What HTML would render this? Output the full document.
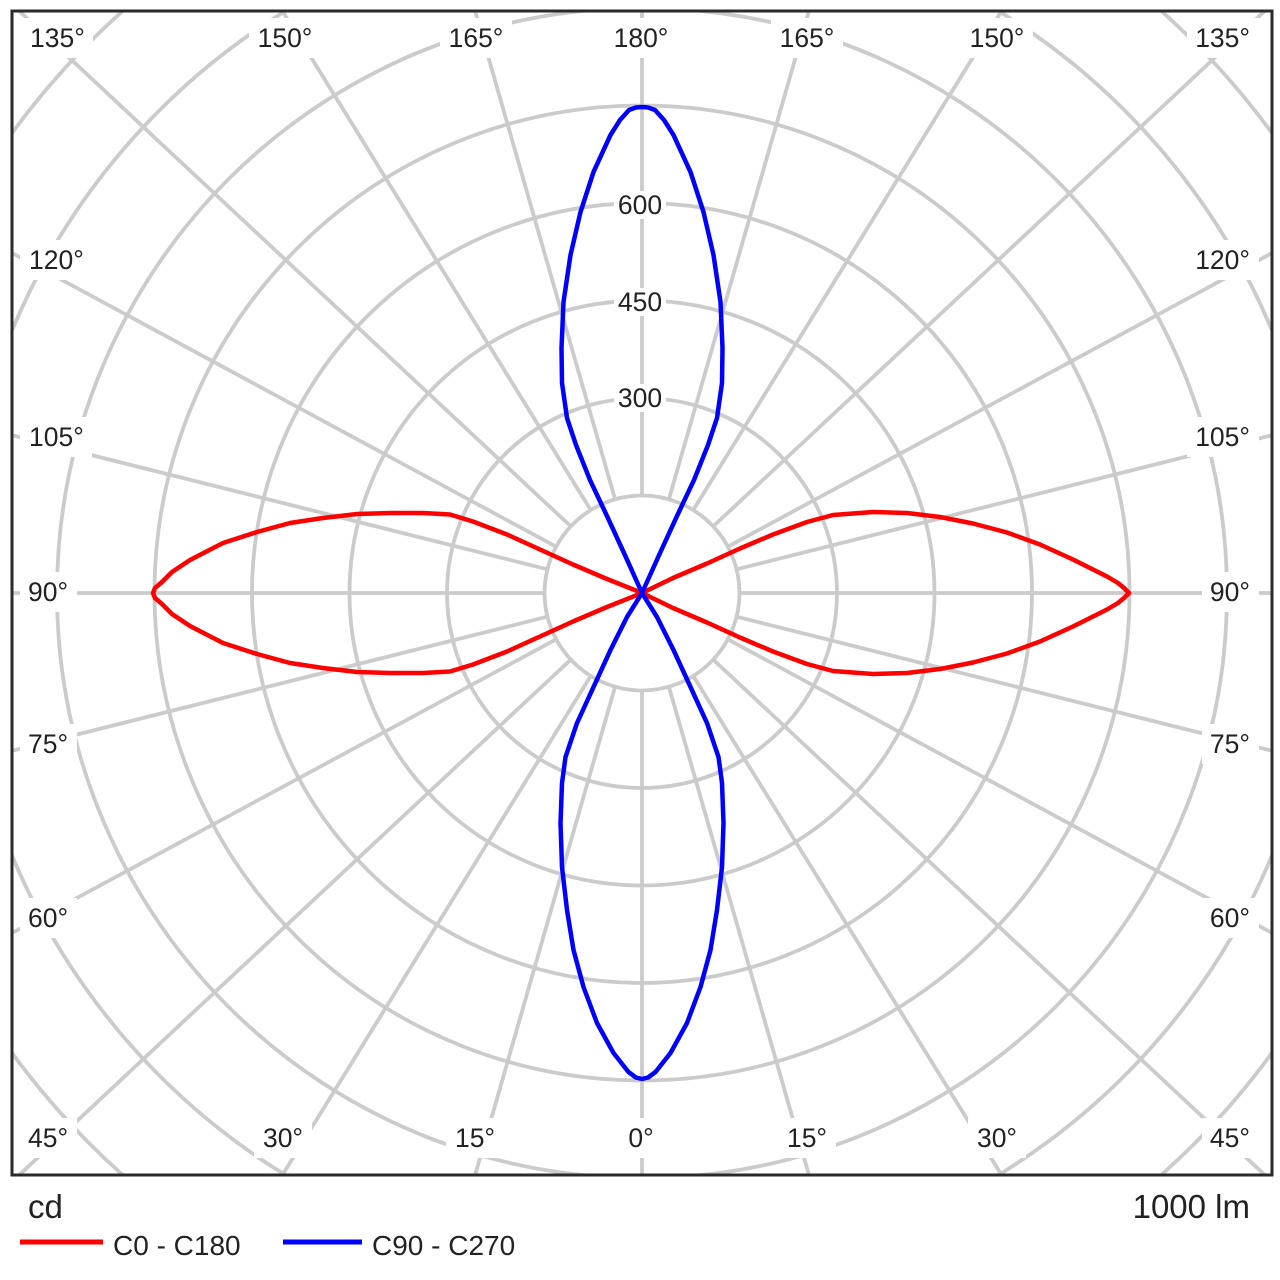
<!DOCTYPE html>
<html>
<head>
<meta charset="utf-8">
<style>
html,body{margin:0;padding:0;background:#fff;width:1280px;height:1280px;overflow:hidden;}
svg{display:block;}
text{font-family:"Liberation Sans",Arial,sans-serif;fill:#222;}
</style>
</head>
<body>
<svg width="1280" height="1280" viewBox="0 0 1280 1280" xmlns="http://www.w3.org/2000/svg">
<defs>
<clipPath id="c"><rect x="12" y="11" width="1260" height="1164"/></clipPath>
</defs>
<rect x="0" y="0" width="1280" height="1280" fill="#fff"/>
<g clip-path="url(#c)" stroke="#cbcbcb" stroke-width="3.8" fill="none">
<g transform="translate(642,593)">
<circle r="97.5"/><circle r="195"/><circle r="292.5"/><circle r="390"/>
<circle r="487.5"/><circle r="585"/>
<line x1="0" y1="97.5" x2="0" y2="582"/>
<line x1="0" y1="-97.5" x2="0" y2="-582"/>
<line x1="97.5" y1="0" x2="630" y2="0"/>
<line x1="-97.5" y1="0" x2="-630" y2="0"/>
<line x1="26.9" y1="93.7" x2="166.9" y2="582"/>
<line x1="-26.9" y1="93.7" x2="-166.9" y2="582"/>
<line x1="26.9" y1="-93.7" x2="166.9" y2="-582"/>
<line x1="-26.9" y1="-93.7" x2="-166.9" y2="-582"/>
<line x1="51.2" y1="82.9" x2="359.6" y2="582"/>
<line x1="-51.2" y1="82.9" x2="-359.6" y2="582"/>
<line x1="51.2" y1="-82.9" x2="359.6" y2="-582"/>
<line x1="-51.2" y1="-82.9" x2="-359.6" y2="-582"/>
<line x1="71.2" y1="66.6" x2="622.8" y2="582"/>
<line x1="-71.2" y1="66.6" x2="-622.8" y2="582"/>
<line x1="71.2" y1="-66.6" x2="622.8" y2="-582"/>
<line x1="-71.2" y1="-66.6" x2="-622.8" y2="-582"/>
<line x1="85.8" y1="46.3" x2="630" y2="340"/>
<line x1="-85.8" y1="46.3" x2="-630" y2="340"/>
<line x1="85.8" y1="-46.3" x2="630" y2="-340"/>
<line x1="-85.8" y1="-46.3" x2="-630" y2="-340"/>
<line x1="94.6" y1="23.7" x2="630" y2="157.8"/>
<line x1="-94.6" y1="23.7" x2="-630" y2="157.8"/>
<line x1="94.6" y1="-23.7" x2="630" y2="-157.8"/>
<line x1="-94.6" y1="-23.7" x2="-630" y2="-157.8"/>
</g>
<path d="M998.5 11 A682.5 682.5 0 0 1 1272 330.5"/>
<path d="M1272 855.5 A682.5 682.5 0 0 1 998.5 1175"/>
<path d="M285.5 1175 A682.5 682.5 0 0 1 12 855.5"/>
<path d="M12 330.5 A682.5 682.5 0 0 1 285.5 11"/>
<path d="M1161.3 11 A780 780 0 0 1 1272 133.1"/>
<path d="M1272 1052.9 A780 780 0 0 1 1161.3 1175"/>
<path d="M122.7 1175 A780 780 0 0 1 12 1052.9"/>
<path d="M12 133.1 A780 780 0 0 1 122.7 11"/>
</g>

<!-- label masks -->
<g fill="#fff">
<rect x="21" y="18" width="72" height="40"/>
<rect x="249" y="18" width="72" height="40"/>
<rect x="440" y="18" width="72" height="40"/>
<rect x="605" y="18" width="72" height="40"/>
<rect x="771" y="18" width="72" height="40"/>
<rect x="961" y="18" width="72" height="40"/>
<rect x="1187" y="18" width="72" height="40"/>
<rect x="20" y="240" width="72" height="40"/>
<rect x="20" y="417" width="72" height="40"/>
<rect x="20" y="572" width="57" height="40"/>
<rect x="20" y="724" width="57" height="40"/>
<rect x="20" y="898" width="57" height="40"/>
<rect x="20" y="1118" width="57" height="40"/>
<rect x="1187" y="240" width="72" height="40"/>
<rect x="1187" y="417" width="72" height="40"/>
<rect x="1202" y="572" width="57" height="40"/>
<rect x="1202" y="724" width="57" height="40"/>
<rect x="1202" y="898" width="57" height="40"/>
<rect x="1202" y="1118" width="57" height="40"/>
<rect x="254" y="1118" width="58" height="40"/>
<rect x="446" y="1118" width="58" height="40"/>
<rect x="620" y="1118" width="42" height="40"/>
<rect x="778" y="1118" width="58" height="40"/>
<rect x="968" y="1118" width="58" height="40"/>
<rect x="614" y="191" width="52" height="28"/>
<rect x="614" y="288" width="52" height="28"/>
<rect x="614" y="384" width="52" height="28"/>
</g>

<g font-size="26.5">
<text x="30" y="47">135°</text>
<text x="285" y="47" text-anchor="middle">150°</text>
<text x="476" y="47" text-anchor="middle">165°</text>
<text x="641" y="47" text-anchor="middle">180°</text>
<text x="807" y="47" text-anchor="middle">165°</text>
<text x="997" y="47" text-anchor="middle">150°</text>
<text x="1250" y="47" text-anchor="end">135°</text>

<text x="29" y="269">120°</text>
<text x="29" y="446">105°</text>
<text x="28" y="601">90°</text>
<text x="28" y="753">75°</text>
<text x="28" y="927">60°</text>
<text x="28" y="1147">45°</text>

<text x="1250" y="269" text-anchor="end">120°</text>
<text x="1250" y="446" text-anchor="end">105°</text>
<text x="1250" y="601" text-anchor="end">90°</text>
<text x="1250" y="753" text-anchor="end">75°</text>
<text x="1250" y="927" text-anchor="end">60°</text>
<text x="1250" y="1147" text-anchor="end">45°</text>

<text x="283" y="1147" text-anchor="middle">30°</text>
<text x="475" y="1147" text-anchor="middle">15°</text>
<text x="641" y="1147" text-anchor="middle">0°</text>
<text x="807" y="1147" text-anchor="middle">15°</text>
<text x="997" y="1147" text-anchor="middle">30°</text>

<text x="640" y="214" text-anchor="middle">600</text>
<text x="640" y="311" text-anchor="middle">450</text>
<text x="640" y="407" text-anchor="middle">300</text>
</g>

<!-- curves -->
<g fill="none" stroke-width="4.5" stroke-linejoin="round" stroke-linecap="round">
<polyline stroke="#ff0000" points="642,593 673,578 707,563.5 740,548.5 773,534.5 807,522 833,515 873,512 907,513 940,517 973,523.5 1007,532.5 1040,544.5 1073,559.5 1107,576.5 1118,583 1124,588 1129,593 1124,598 1118,603 1107,609.5 1073,626.5 1040,641.5 1007,653.5 973,662.5 940,669 907,673 873,674 833,671 807,664 773,651.5 740,637.5 707,622.5 673,608 642,593"/>
<polyline stroke="#ff0000" points="642,593 607,579 573,564.5 540,549.5 507,534.5 473,521.5 450,514.5 423,513 390,513 357,514 323,518 290,523 257,532 223,543 190,560 172,572 162,582 155,588 153,593 155,598 162,604 172,614 190,626 223,643 257,654 290,663 323,668 357,672 390,673 423,673 450,671.5 473,664.5 507,651.5 540,636.5 573,621.5 607,607 642,593"/>
<polyline stroke="#0000ff" points="642,593 660,553 677,516 694,480 708,445 717,418 722,383 722.5,348 720.5,302 713.5,255 703.5,212 690.5,172 673.5,135 664,120 655,110 648,107.5 642,107 636,107.5 629,110 620,120 610.5,135 593.5,172 580.5,212 570.5,255 563.5,302 561.5,348 562,383 567,418 576,445 590,480 607,516 624,553 642,593"/>
<polyline stroke="#0000ff" points="642,593 657,617 673.5,650 690.5,687 707,723 718.5,757 722,783 723.5,823 722,867 717,910 710.5,950 700.5,987 687,1023 670.5,1053 655.5,1072 648,1077.5 642,1079 636,1077.5 628.5,1072 613.5,1053 597,1023 583.5,987 573.5,950 567,910 562,867 560.5,823 562,783 565.5,757 577,723 593.5,687 610.5,650 627,617 642,593"/>
</g>

<!-- frame -->
<rect x="12" y="11" width="1260" height="1164" fill="none" stroke="#2a2a2a" stroke-width="3"/>

<!-- legend -->
<text x="28" y="1218" font-size="33">cd</text>
<text x="1250" y="1218" font-size="33" text-anchor="end">1000 lm</text>
<line x1="20" y1="1242" x2="103" y2="1242" stroke="#ff0000" stroke-width="5"/>
<text x="113" y="1255" font-size="28">C0 - C180</text>
<line x1="283" y1="1242" x2="362" y2="1242" stroke="#0000ff" stroke-width="5"/>
<text x="372" y="1255" font-size="28">C90 - C270</text>
</svg>
</body>
</html>
